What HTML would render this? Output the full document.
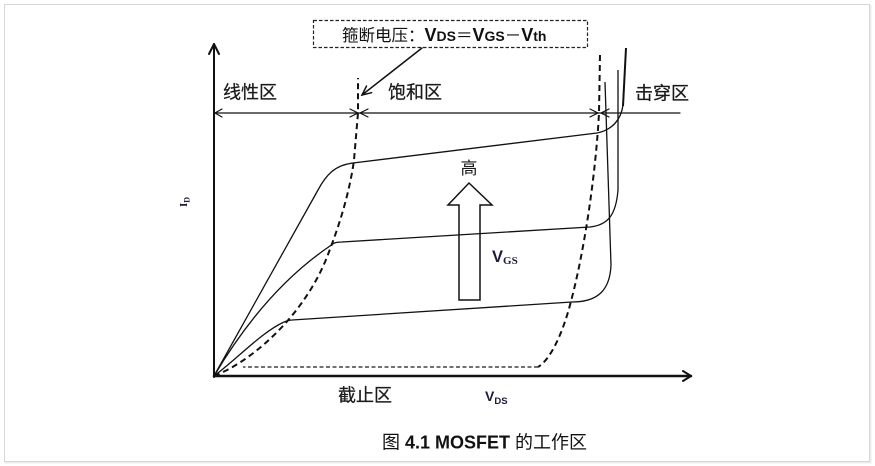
<!DOCTYPE html>
<html>
<head>
<meta charset="utf-8">
<style>
  html, body { margin: 0; padding: 0; background: #fff; }
  body { width: 875px; height: 466px; overflow: hidden; }
  svg { display: block; }
  .cjk { font-family: "Liberation Sans", "Noto Sans CJK SC", sans-serif; }
</style>
</head>
<body>
<svg width="875" height="466" viewBox="0 0 875 466" xmlns="http://www.w3.org/2000/svg">
  <!-- card -->
  <rect x="5.5" y="5.5" width="865" height="457" fill="none" stroke="#ececec" stroke-width="2"/>
  <rect x="4.5" y="4.5" width="865" height="457" fill="#fff" stroke="#d6d6d6" stroke-width="1"/>

  <!-- dashed callout box -->
  <rect x="313.5" y="20.5" width="274" height="27" fill="none" stroke="#222" stroke-width="1.2" stroke-dasharray="3.5 2"/>
  <text y="41" class="cjk" fill="#111" style="font-size:16.5px">
    <tspan x="342">箍断电压：</tspan><tspan font-family="Liberation Sans, sans-serif" font-weight="bold" font-size="18">V</tspan><tspan font-family="Liberation Sans, sans-serif" font-weight="bold" font-size="14">DS</tspan><tspan>＝</tspan><tspan font-family="Liberation Sans, sans-serif" font-weight="bold" font-size="18">V</tspan><tspan font-family="Liberation Sans, sans-serif" font-weight="bold" font-size="14">GS</tspan><tspan>－</tspan><tspan font-family="Liberation Sans, sans-serif" font-weight="bold" font-size="18">V</tspan><tspan font-family="Liberation Sans, sans-serif" font-weight="bold" font-size="14">th</tspan>
  </text>

  <!-- leader arrow -->
  <g stroke="#111" stroke-width="1.5" fill="none" stroke-linecap="round">
    <line x1="422" y1="48" x2="362" y2="95"/>
    <polyline points="371.7,92.7 362,95 366.5,86.1"/>
  </g>

  <!-- axes -->
  <g stroke="#111" fill="none" stroke-linecap="round" stroke-linejoin="round">
    <line x1="214" y1="377" x2="214" y2="44" stroke-width="2"/>
    <polyline points="209,54 214,44 219,54" stroke-width="2"/>
    <line x1="214" y1="376" x2="691" y2="376" stroke-width="2.6"/>
    <polyline points="683,371 691,376 683,381" stroke-width="2"/>
  </g>

  <!-- dimension line -->
  <g stroke="#111" fill="none" stroke-width="1.2" stroke-linecap="round">
    <line x1="214" y1="113" x2="680" y2="113"/>
    <polyline points="222,109 215,113 222,117"/>
    <polyline points="350,109 358,113 350,117"/>
    <polyline points="368,109 360,113 368,117"/>
    <polyline points="590,109 598,113 590,117"/>
    <polyline points="609,109 601,113 609,117"/>
  </g>

  <!-- region labels -->
  <g class="cjk" fill="#1a1a1a" stroke="#1a1a1a" stroke-width="0.25" style="font-size:18px">
    <text x="223" y="98.5">线性区</text>
    <text x="388" y="98.5">饱和区</text>
    <text x="635" y="99.5">击穿区</text>
    <text x="338" y="401.5">截止区</text>
  </g>

  <!-- dashed boundaries -->
  <g fill="none" stroke="#111" stroke-width="2" stroke-dasharray="6 4">
    <path d="M214,376 C250,362 300,320 325,262 C340,225 350,190 354,160 L358,113 L358,78"/>
    <path d="M600,55 L599,113 C596,170 585,250 570,305 C562,335 550,360 538,367"/>
  </g>
  <line x1="538" y1="367" x2="243" y2="367" stroke="#444" stroke-width="1.6" stroke-dasharray="4 2.5"/>

  <!-- characteristic curves -->
  <g fill="none" stroke="#111" stroke-width="1.3" stroke-linejoin="round">
    <path d="M214,376 L318,190 C326,175 335,165 353,163 L597,133 C612,130 621,120 623,105"/>
    <line x1="623" y1="106" x2="626" y2="48" stroke-width="2"/>
    <path d="M214,376 Q265,290 330,246 C333,243 336,242 342,242 L590,227 C608,225 616,215 618,190 L618,70"/>
    <path d="M214,376 C238,358 262,332 284,322 C287,321 289,320 292,320 L572,302 C598,302 610,290 611,265 L605,82"/>
  </g>

  <!-- VGS big arrow -->
  <polygon points="459,300 480,300 480,205 492,205 469,183 448,205 459,205" fill="none" stroke="#111" stroke-width="1.5" stroke-linejoin="miter"/>
  <text x="469" y="174" text-anchor="middle" class="cjk" fill="#1a1a1a" style="font-size:17px">高</text>
  <text x="492" y="262" fill="#1c1c3c" font-family="Liberation Sans, sans-serif" font-weight="bold" font-size="16.5">V<tspan font-family="Liberation Serif, serif" font-size="11" dy="2">GS</tspan></text>

  <!-- VDS label -->
  <text x="485" y="401" fill="#1c1c3c" font-family="Liberation Sans, sans-serif" font-weight="bold" font-size="14">V<tspan font-size="9.5" dy="3">DS</tspan></text>

  <!-- ID label (rotated) -->
  <text transform="translate(187,207) rotate(-90)" fill="#1c1c3c" font-family="Liberation Serif, serif" font-weight="bold" font-size="11">I<tspan font-size="8" dy="2.5">D</tspan></text>

  <!-- caption -->
  <text x="484.5" y="448.5" text-anchor="middle" class="cjk" fill="#111" style="font-size:18px">图 <tspan font-family="Liberation Sans, sans-serif" font-weight="bold">4.1 MOSFET</tspan> 的工作区</text>
</svg>
</body>
</html>
